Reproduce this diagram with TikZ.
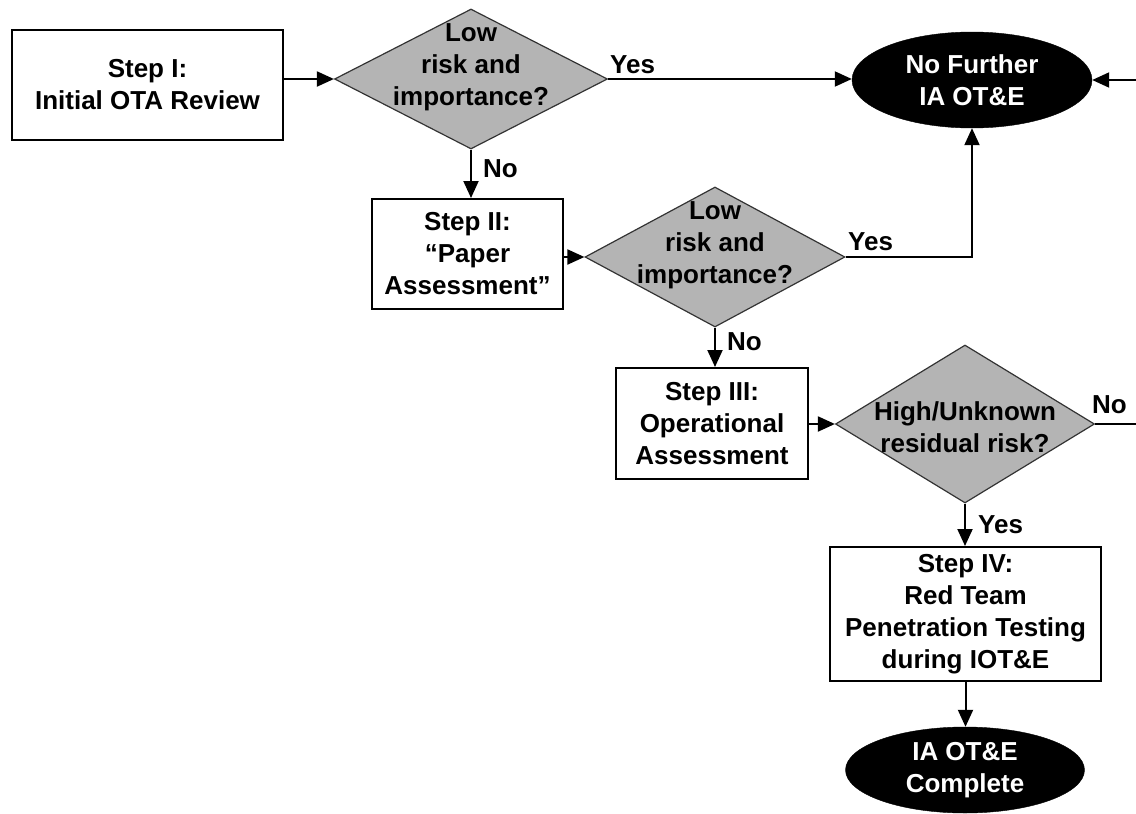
\documentclass[tikz,border=0pt]{standalone}
\usepackage{fontspec}
\setmainfont{Liberation Sans}
\usetikzlibrary{shapes.geometric,arrows.meta}
\definecolor{diagray}{RGB}{180,180,180}
\begin{document}
\begin{tikzpicture}[x=1pt,y=-1pt,
  txt/.style={font=\fontsize{26}{32}\selectfont\bfseries, align=center, inner sep=0pt},
  stepbox/.style={txt, draw, line width=2pt, fill=white},
  decision/.style={diamond, draw=black!80, line width=1.2pt, fill=diagray, inner sep=0pt},
  terminal/.style={txt, ellipse, fill=black, draw=black, text=white},
  conn/.style={line width=2pt, -{Triangle[length=17pt,width=15pt]}},
  lbl/.style={txt, anchor=base west}]
\useasboundingbox (0,0) rectangle (1136,814);
% boxes
\node[stepbox, minimum width=271, minimum height=110] (s1) at (147.5,85) {Step I:\\Initial OTA Review};
\node[stepbox, minimum width=191, minimum height=110] (s2) at (467.5,254) {Step II:\\“Paper\\Assessment”};
\node[stepbox, minimum width=192, minimum height=111] (s3) at (712,423.5) {Step III:\\Operational\\Assessment};
\node[stepbox, minimum width=271, minimum height=134] (s4) at (965.5,614) {Step IV:\\Red Team\\Penetration Testing\\during IOT\&E};
% decisions
\node[decision, minimum width=273, minimum height=140] (d1) at (471,79) {};
\node[txt] (d1t) at (471,67) {Low\\risk and\\importance?};
\node[decision, minimum width=260, minimum height=140] (d2) at (715,257) {};
\node[txt] (d2t) at (715,245) {Low\\risk and\\importance?};
\node[decision, minimum width=259, minimum height=158] (d3) at (965,424) {};
\node[txt] (d3t) at (965,427) {High/Unknown\\residual risk?};
% terminals
\node[terminal, minimum width=240, minimum height=96] (e1) at (972,80) {No Further\\IA OT\&E};
\node[terminal, minimum width=239, minimum height=86] (e2) at (965,770) {IA OT\&E\\Complete};
% off-page ends
\coordinate (r1) at (1136,80);
\coordinate (r2) at (1136,424);
% connectors
\draw[conn] (s1.east |- d1.west) -- (d1.west);
\draw[conn] (d1.east) -- (d1.east -| e1.west);
\draw[conn] (d1.south) -- (d1.south |- s2.north);
\draw[conn] (s2.east |- d2.west) -- (d2.west);
\draw[conn] (d2.east) -| (e1.south);
\draw[conn] (d2.south) -- (d2.south |- s3.north);
\draw[conn] (s3.east |- d3.west) -- (d3.west);
\draw[conn] (d3.south) -- (d3.south |- s4.north);
\draw[conn] (s4.south) -- (s4.south |- e2.north);
\draw[conn] (r1) -- (e1.east);
\draw[line width=2pt] (d3.east) -- (r2);
% labels
\node[lbl] (y1) at (610,73) {Yes};
\node[lbl] (n1) at (483,177) {No};
\node[lbl] (y2) at (848,250) {Yes};
\node[lbl] (n2) at (727,350) {No};
\node[lbl] (n3) at (1092,413) {No};
\node[lbl] (y3) at (978,533) {Yes};
\end{tikzpicture}
\end{document}
